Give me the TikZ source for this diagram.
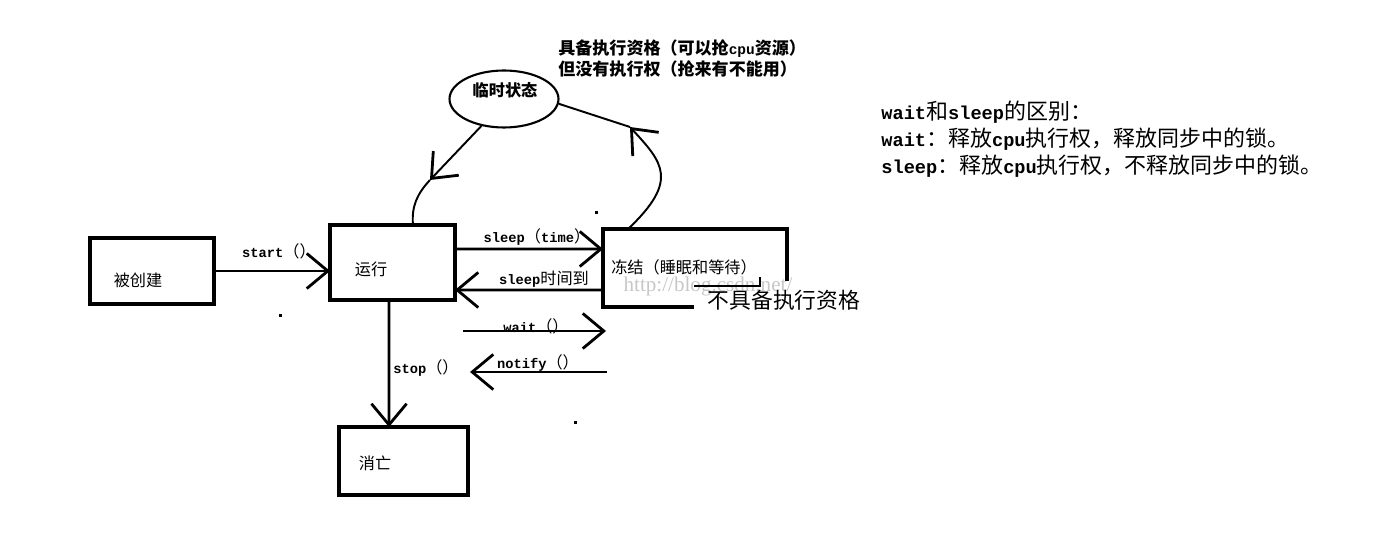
\documentclass[tikz,border=0pt]{standalone}
\usepackage{fontspec}
\setmainfont{Noto Sans CJK SC}
\setmonofont{Liberation Mono}[Scale=0.85]
\newfontfamily\wmfont{Liberation Serif}
\usetikzlibrary{arrows.meta,shapes.geometric}
\newcommand{\asc}[1]{{\ttfamily\bfseries #1}}
\tikzset{
  box/.style={draw=black,line width=1.8pt,inner sep=0pt,outer sep=0pt},
  conn/.style={line width=1.6pt},
  curvy/.style={line width=1.1pt},
  lbl/.style={font=\fontsize{9.2pt}{11pt}\selectfont,inner sep=0pt},
  note/.style={font=\fontsize{12.5pt}{15.3pt}\selectfont,inner sep=0pt,align=left,anchor=west},
}

\begin{document}
\begin{tikzpicture}[x=0.02cm,y=-0.02cm,>={Straight Barb[length=12pt,width=20pt,line width=1.6pt]}]
  \useasboundingbox (0,0) rectangle (1390,550);
  \node[text=black!22,font=\fontsize{12pt}{13pt}\selectfont\wmfont,inner sep=0pt] (wm) at (708,286) {http://blog.csdn.net/};

  \node[box,minimum width=2.48cm,minimum height=1.32cm] (cj) at (152,271) {};
  \node[box,minimum width=2.50cm,minimum height=1.50cm] (yx) at (392.5,262.5) {};
  \node[inner sep=0pt,outer sep=0pt,minimum width=3.68cm,minimum height=1.56cm] (dj) at (695,268) {};
  \node[box,minimum width=2.58cm,minimum height=1.36cm] (xw) at (403.5,461) {};
  \node[draw,ellipse,line width=1.2pt,inner sep=0pt,minimum width=2.18cm,minimum height=1.14cm] (ls) at (504,99) {};
  \draw[line width=1.8pt] ([xshift=1.82cm]dj.south west) -- (dj.south west) -- (dj.north west)
     -- (dj.north east) -- ([yshift=-1.04cm]dj.north east);
  \draw[line width=1.6pt] (694,286) -- (760,286) -- (760,277);

  \coordinate (w1) at (463,331);
  \coordinate (w2) at (606,331);
  \coordinate (n1) at (607,372);
  \coordinate (n2) at (470,372);
  \coordinate (m1) at (430,180);
  \coordinate (m2) at (630,127);
  \draw[conn,->] (cj) -- (cj -| yx.west);
  \draw[conn,->] ([yshift=0.27cm]yx.east) -- ([yshift=0.38cm]dj.west);
  \draw[conn,->] ([yshift=-0.44cm]dj.west) -- ([yshift=-0.55cm]yx.east);
  \draw[conn,->] (w1) -- (w2);
  \draw[conn,->] (n1) -- (n2);
  \draw[conn,->] ([xshift=-0.07cm]yx.south) -- ([xshift=-0.29cm]xw.north);
  \draw[curvy,->] (ls.230) -- (m1);
  \draw[curvy] (m1) to[out=-133,in=95] ([xshift=0.41cm]yx.north);
  \draw[curvy,->] ([xshift=-1.34cm]dj.north) .. controls (680,180) and (662,162) .. (m2);
  \draw[curvy] (m2) -- (ls.-5);

  \fill (278.5,314.5) rectangle +(3,3);
  \fill (594.5,211.5) rectangle +(3,3);
  \fill (573.5,421.5) rectangle +(3,3);

  \node[lbl] (tcj) at (138,280) {被创建};
  \node[lbl] (tyx) at (371,269) {运行};
  \node[lbl] (tdj) at (684,267) {冻结（睡眠和等待）};
  \node[lbl] (txw) at (375,463) {消亡};
  \node[lbl,font=\fontsize{9.2pt}{11pt}\selectfont\bfseries] (tls) at (505,90) {临时状态};
  \node[lbl] (tstart) at (279,251) {\asc{start}（）};
  \node[lbl] (tsleep) at (537,237) {\asc{sleep}（\asc{time}）};
  \node[lbl] (tback) at (544,279) {\asc{sleep}时间到};
  \node[lbl] (twait) at (536,326) {\asc{wait}（）};
  \node[lbl] (tnotify) at (538,363) {\asc{notify}（）};
  \node[lbl] (tstop) at (426,368) {\asc{stop}（）};
  \node[lbl,anchor=west,align=left,font=\fontsize{9.7pt}{11.9pt}\selectfont\bfseries] (tready) at (558,58.5)
     {具备执行资格（可以抢\asc{cpu}资源）\\但没有执行权（抢来有不能用）};
  \node[inner sep=0pt,font=\fontsize{12.4pt}{14pt}\selectfont] (tnot) at (784,300) {不具备执行资格};
  \node[note] (tdiff) at (881,139) {\asc{wait}和\asc{sleep}的区别：\\
     \asc{wait}：释放\asc{cpu}执行权，释放同步中的锁。\\
     \asc{sleep}：释放\asc{cpu}执行权，不释放同步中的锁。};
\end{tikzpicture}
\end{document}
